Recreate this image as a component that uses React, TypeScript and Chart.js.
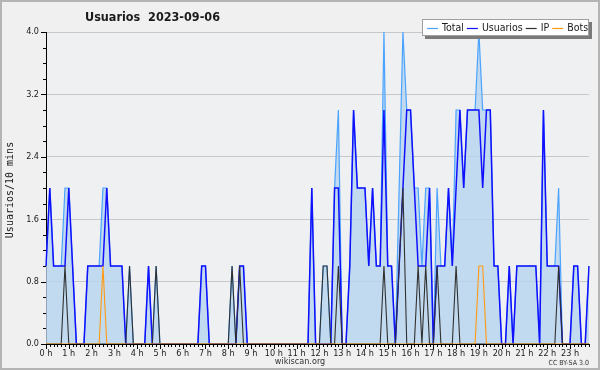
import React, { useEffect, useRef } from "react";
import { Chart, registerables } from "chart.js";

Chart.register(...registerables);

const TITLE = "Usuarios  2023-09-06";
const Y_TITLE = "Usuarios/10 mins";
const FOOTER = "wikiscan.org";
const LICENSE = "CC BY-SA 3.0";

const HOUR_LABELS = [
  "0 h", "1 h", "2 h", "3 h", "4 h", "5 h", "6 h", "7 h", "8 h", "9 h", "10 h", "11 h",
  "12 h", "13 h", "14 h", "15 h", "16 h", "17 h", "18 h", "19 h", "20 h", "21 h", "22 h", "23 h",
];
const MINUTES = ["00", "10", "20", "30", "40", "50"];
const SLOT_LABELS: string[] = [];
HOUR_LABELS.forEach((h, hi) => MINUTES.forEach((m) => SLOT_LABELS.push(`${hi}:${m}`)));

const Y_TICKS = [0, 0.8, 1.6, 2.4, 3.2, 4.0];
const Y_MAX = 4;
const Y_MINOR_STEP = 0.2;

const SERIES_NAMES = ["Total", "Usuarios", "IP", "Bots"];

// 144 ten-minute slots, 12 per row (2 hours per row)
const TOTAL = [
  1, 2, 1, 1, 1, 2, 2, 1, 0, 0, 0, 1,
  1, 1, 1, 2, 2, 1, 1, 1, 1, 0, 1, 0,
  0, 0, 0, 1, 0, 1, 0, 0, 0, 0, 0, 0,
  0, 0, 0, 0, 0, 1, 1, 0, 0, 0, 0, 0,
  0, 1, 0, 1, 1, 0, 0, 0, 0, 0, 0, 0,
  0, 0, 0, 0, 0, 0, 0, 0, 0, 0, 2, 0,
  0, 1, 1, 0, 2, 3, 0, 0, 1, 3, 2, 2,
  2, 1, 2, 1, 1, 4, 1, 1, 0, 2, 4, 3,
  3, 2, 2, 1, 2, 2, 0, 2, 1, 1, 2, 1,
  3, 3, 2, 3, 3, 3, 4, 3, 3, 3, 1, 1,
  0, 0, 1, 0, 1, 1, 1, 1, 1, 1, 0, 3,
  1, 1, 1, 2, 0, 0, 0, 1, 1, 0, 0, 1,
];

const USUARIOS = [
  1, 2, 1, 1, 1, 1, 2, 1, 0, 0, 0, 1,
  1, 1, 1, 1, 2, 1, 1, 1, 1, 0, 0, 0,
  0, 0, 0, 1, 0, 0, 0, 0, 0, 0, 0, 0,
  0, 0, 0, 0, 0, 1, 1, 0, 0, 0, 0, 0,
  0, 0, 0, 1, 1, 0, 0, 0, 0, 0, 0, 0,
  0, 0, 0, 0, 0, 0, 0, 0, 0, 0, 2, 0,
  0, 0, 0, 0, 2, 2, 0, 0, 1, 3, 2, 2,
  2, 1, 2, 1, 1, 3, 1, 1, 0, 1, 2, 3,
  3, 2, 1, 1, 1, 2, 0, 1, 1, 1, 2, 1,
  2, 3, 2, 3, 3, 3, 3, 2, 3, 3, 1, 1,
  0, 0, 1, 0, 1, 1, 1, 1, 1, 1, 0, 3,
  1, 1, 1, 1, 0, 0, 0, 1, 1, 0, 0, 1,
];

const IP = [
  0, 0, 0, 0, 0, 1, 0, 0, 0, 0, 0, 0,
  0, 0, 0, 0, 0, 0, 0, 0, 0, 0, 1, 0,
  0, 0, 0, 0, 0, 1, 0, 0, 0, 0, 0, 0,
  0, 0, 0, 0, 0, 0, 0, 0, 0, 0, 0, 0,
  0, 1, 0, 1, 0, 0, 0, 0, 0, 0, 0, 0,
  0, 0, 0, 0, 0, 0, 0, 0, 0, 0, 0, 0,
  0, 1, 1, 0, 0, 1, 0, 0, 0, 0, 0, 0,
  0, 0, 0, 0, 0, 1, 0, 0, 0, 1, 2, 0,
  0, 0, 1, 0, 1, 0, 0, 1, 0, 0, 0, 0,
  1, 0, 0, 0, 0, 0, 0, 0, 0, 0, 0, 0,
  0, 0, 0, 0, 0, 0, 0, 0, 0, 0, 0, 0,
  0, 0, 0, 1, 0, 0, 0, 0, 0, 0, 0, 0,
];

const BOTS = [
  0, 0, 0, 0, 0, 0, 0, 0, 0, 0, 0, 0,
  0, 0, 0, 1, 0, 0, 0, 0, 0, 0, 0, 0,
  0, 0, 0, 0, 0, 0, 0, 0, 0, 0, 0, 0,
  0, 0, 0, 0, 0, 0, 0, 0, 0, 0, 0, 0,
  0, 0, 0, 0, 0, 0, 0, 0, 0, 0, 0, 0,
  0, 0, 0, 0, 0, 0, 0, 0, 0, 0, 0, 0,
  0, 0, 0, 0, 0, 0, 0, 0, 0, 0, 0, 0,
  0, 0, 0, 0, 0, 0, 0, 0, 0, 0, 0, 0,
  0, 0, 0, 0, 0, 0, 0, 0, 0, 0, 0, 0,
  0, 0, 0, 0, 0, 0, 1, 1, 0, 0, 0, 0,
  0, 0, 0, 0, 0, 0, 0, 0, 0, 0, 0, 0,
  0, 0, 0, 0, 0, 0, 0, 0, 0, 0, 0, 0,
];

const COLORS = {
  total: "#4aa3ff",
  usuarios: "#1010ff",
  ip: "#303030",
  bots: "#ff9a10",
  fill: "rgba(182, 211, 238, 0.78)",
  outerBg: "#f0f0f0",
  plotBg: "#eef0f2",
  grid: "#c8c8c8",
  text: "#1a1a1a",
};

const COND = '"DejaVu Sans Condensed", "DejaVu Sans", sans-serif';

const decorPlugin = {
  id: "decor",
  beforeDraw(chart: any) {
    const { ctx, chartArea: a, width, height } = chart;
    ctx.save();
    ctx.fillStyle = COLORS.outerBg;
    ctx.fillRect(0, 0, width, height);
    ctx.fillStyle = COLORS.plotBg;
    ctx.fillRect(a.left, a.top, a.right - a.left, a.bottom - a.top);
    ctx.restore();
  },
  afterDraw(chart: any) {
    const { ctx, chartArea: a, width, height } = chart;
    const xs = chart.scales.x;
    const ys = chart.scales.y;
    ctx.save();
    // x ticks
    ctx.strokeStyle = "#000";
    ctx.lineWidth = 1;
    ctx.beginPath();
    for (let i = 0; i < SLOT_LABELS.length; i++) {
      const px = Math.round(xs.getPixelForValue(i)) + 0.5;
      const len = i % MINUTES.length === 0 ? 5 : 3;
      ctx.moveTo(px, a.bottom);
      ctx.lineTo(px, a.bottom + len);
    }
    // y ticks
    const n = Math.round(Y_MAX / Y_MINOR_STEP);
    for (let k = 0; k <= n; k++) {
      const py = Math.round(ys.getPixelForValue(k * Y_MINOR_STEP)) + 0.5;
      const len = k % 4 === 0 ? 5 : 3;
      ctx.moveTo(a.left, py);
      ctx.lineTo(a.left - len, py);
    }
    ctx.stroke();

    // frame
    ctx.strokeStyle = "#b4b4b4";
    ctx.lineWidth = 2;
    ctx.strokeRect(1, 1, width - 2, height - 2);

    // title
    ctx.fillStyle = COLORS.text;
    ctx.font = `bold 12.5px ${COND}`;
    ctx.textAlign = "left";
    ctx.textBaseline = "middle";
    ctx.fillText(TITLE, 85, 18);

    // y axis title
    ctx.save();
    ctx.translate(10, 190);
    ctx.rotate(-Math.PI / 2);
    ctx.font = '10px "DejaVu Sans Mono", monospace';
    ctx.textAlign = "center";
    ctx.textBaseline = "middle";
    ctx.fillText(Y_TITLE, 0, 0);
    ctx.restore();

    // footer
    ctx.font = `9px ${COND}`;
    ctx.textAlign = "center";
    ctx.fillStyle = "#333";
    ctx.fillText(FOOTER, 300, 362);
    ctx.font = `7px ${COND}`;
    ctx.textAlign = "right";
    ctx.fillText(LICENSE, 589, 363);

    // legend
    const bx = 422, by = 19, bw = 167, bh = 17;
    ctx.fillStyle = "#7a7a7a";
    ctx.fillRect(bx + 3, by + 3, bw, bh);
    ctx.fillStyle = "#ffffff";
    ctx.fillRect(bx, by, bw, bh);
    ctx.strokeStyle = "#a0a0a0";
    ctx.lineWidth = 1;
    ctx.strokeRect(bx + 0.5, by + 0.5, bw - 1, bh - 1);
    const cols = [COLORS.total, COLORS.usuarios, COLORS.ip, COLORS.bots];
    ctx.font = `10.5px ${COND}`;
    ctx.textAlign = "left";
    ctx.textBaseline = "middle";
    let cx = bx + 5;
    const cy = by + bh / 2;
    SERIES_NAMES.forEach((name, i) => {
      ctx.strokeStyle = cols[i];
      ctx.lineWidth = 1.2;
      ctx.beginPath();
      ctx.moveTo(cx, Math.round(cy) + 0.5);
      ctx.lineTo(cx + 11, Math.round(cy) + 0.5);
      ctx.stroke();
      cx += 15;
      ctx.fillStyle = COLORS.text;
      ctx.fillText(name, cx, cy + 0.5);
      cx += ctx.measureText(name).width + 3;
    });
    ctx.restore();
  },
};

export default function App() {
  const ref = useRef<HTMLCanvasElement | null>(null);
  useEffect(() => {
    document.body.style.margin = "0";
    const canvas = ref.current;
    if (!canvas) return;
    const tickFont = { family: COND, size: 9 };
    const chart = new Chart(canvas, {
      type: "line",
      data: {
        labels: SLOT_LABELS,
        datasets: [
          {
            label: SERIES_NAMES[0],
            data: TOTAL,
            borderColor: COLORS.total,
            backgroundColor: COLORS.fill,
            borderWidth: 1.2,
            fill: "origin",
            pointRadius: 0,
            tension: 0,
            order: 4,
          },
          {
            label: SERIES_NAMES[1],
            data: USUARIOS,
            borderColor: COLORS.usuarios,
            borderWidth: 1.5,
            fill: false,
            pointRadius: 0,
            tension: 0,
            order: 3,
          },
          {
            label: SERIES_NAMES[2],
            data: IP,
            borderColor: COLORS.ip,
            borderWidth: 1.1,
            fill: false,
            pointRadius: 0,
            tension: 0,
            order: 2,
          },
          {
            label: SERIES_NAMES[3],
            data: BOTS,
            borderColor: COLORS.bots,
            borderWidth: 1.1,
            fill: false,
            pointRadius: 0,
            tension: 0,
            order: 1,
          },
        ],
      },
      options: {
        responsive: false,
        animation: false,
        events: [],
        layout: { padding: { left: 0, right: 11, top: 32, bottom: 0 } },
        plugins: {
          legend: { display: false },
          title: { display: false },
          tooltip: { enabled: false },
        },
        scales: {
          x: {
            type: "category",
            offset: false,
            grid: { display: false, drawTicks: false },
            border: { display: true, color: "#000", width: 1 },
            ticks: {
              autoSkip: false,
              maxRotation: 0,
              minRotation: 0,
              padding: 4,
              font: tickFont,
              color: COLORS.text,
              callback: (_v: any, i: number) =>
                i % MINUTES.length === 0 ? HOUR_LABELS[i / MINUTES.length] : "",
            },
            afterFit: (s: any) => {
              s.height = 26;
            },
          },
          y: {
            type: "linear",
            min: 0,
            max: Y_MAX,
            afterBuildTicks: (s: any) => {
              s.ticks = Y_TICKS.map((v) => ({ value: v }));
            },
            grid: { color: COLORS.grid, drawTicks: false, lineWidth: 1 },
            border: { display: true, color: "#000", width: 1 },
            ticks: {
              padding: 7,
              font: tickFont,
              color: COLORS.text,
              callback: (v: any) => Number(v).toFixed(1),
            },
            afterFit: (s: any) => {
              s.width = 46;
            },
          },
        },
      },
      plugins: [decorPlugin],
    });
    return () => chart.destroy();
  }, []);
  return (
    <div style={{ width: 600, height: 370 }}>
      <canvas ref={ref} width={600} height={370} style={{ display: "block", width: 600, height: 370 }} />
    </div>
  );
}
